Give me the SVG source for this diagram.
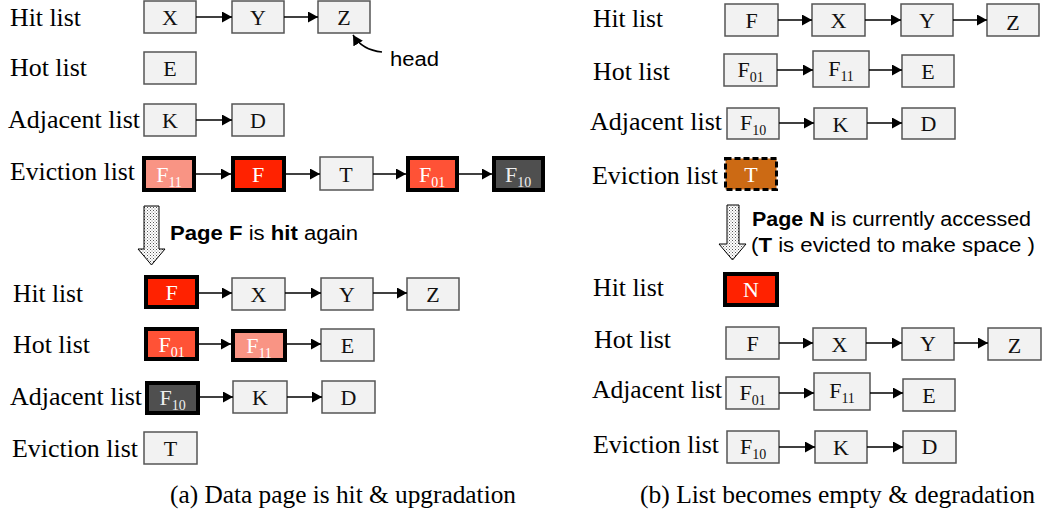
<svg xmlns="http://www.w3.org/2000/svg" width="1044" height="525" viewBox="0 0 1044 525">
<defs>
<style>
.lbl{font-family:"Liberation Serif","Times New Roman",serif;font-size:25px;fill:#000}
.bt{font-family:"Liberation Serif","Times New Roman",serif;font-size:22px;fill:#111;text-anchor:middle}
.wt{fill:#fff}
.sub{font-size:14px}
.box{fill:#f2f2f2;stroke:#555;stroke-width:1.5}
.thick{stroke:#000;stroke-width:4}
.sans{font-family:"Liberation Sans",Arial,sans-serif;font-size:20px;fill:#000}
.b{font-weight:bold}
.con{stroke:#000;stroke-width:1.5;fill:none}
.cap{font-family:"Liberation Serif","Times New Roman",serif;font-size:25px;fill:#000}
</style>
<marker id="ah" markerUnits="userSpaceOnUse" markerWidth="10" markerHeight="11" refX="10" refY="5.5" orient="auto">
<path d="M0,0 L10,5.5 L0,11 z" fill="#000"/>
</marker>
<pattern id="dots" width="3" height="3" patternUnits="userSpaceOnUse">
<rect width="3" height="3" fill="#fff"/>
<rect x="0" y="0" width="1" height="1" fill="#555"/>
<rect x="1.5" y="1.5" width="1" height="1" fill="#888"/>
</pattern>
</defs>
<rect width="1044" height="525" fill="#fff"/>

<!-- ===== Panel (a) top ===== -->
<g id="a-labels-top">
<text class="lbl" x="10" y="26" textLength="71" lengthAdjust="spacingAndGlyphs">Hit list</text>
<text class="lbl" x="10" y="76" textLength="77" lengthAdjust="spacingAndGlyphs">Hot list</text>
<text class="lbl" x="8" y="128" textLength="132" lengthAdjust="spacingAndGlyphs">Adjacent list</text>
<text class="lbl" x="10" y="180" textLength="125" lengthAdjust="spacingAndGlyphs">Eviction list</text>
</g>
<g id="a-X1"><rect class="box" x="144" y="1" width="52" height="32"/><text class="bt" x="170" y="25">X</text></g>
<g id="a-Y1"><rect class="box" x="232" y="1" width="52" height="32"/><text class="bt" x="258" y="25">Y</text></g>
<g id="a-Z1"><rect class="box" x="318" y="1" width="52" height="32"/><text class="bt" x="344" y="25">Z</text></g>
<g id="a-head"><text class="sans" x="390" y="66" textLength="49" lengthAdjust="spacingAndGlyphs">head</text></g>
<g id="a-E1"><rect class="box" x="144" y="52" width="52" height="32"/><text class="bt" x="170" y="76">E</text></g>
<g id="a-K1"><rect class="box" x="144" y="104" width="52" height="32"/><text class="bt" x="170" y="128">K</text></g>
<g id="a-D1"><rect class="box" x="232" y="104" width="52" height="32"/><text class="bt" x="258" y="128">D</text></g>
<g id="a-F11e"><rect class="thick" fill="#f99484" x="144" y="158" width="50" height="32"/><text class="bt wt" x="169" y="182">F<tspan class="sub" dy="5">11</tspan></text></g>
<g id="a-Fe"><rect class="thick" fill="#ff2200" x="233" y="158" width="51" height="32"/><text class="bt wt" x="258" y="182">F</text></g>
<g id="a-Te"><rect class="box" x="320" y="157" width="53" height="33"/><text class="bt" x="346" y="182">T</text></g>
<g id="a-F01e"><rect class="thick" fill="#ff5236" x="408" y="158" width="49" height="32"/><text class="bt wt" x="432" y="182">F<tspan class="sub" dy="5">01</tspan></text></g>
<g id="a-F10e"><rect class="thick" fill="#4f4f4f" x="494" y="158" width="49" height="32"/><text class="bt" style="fill:#eee" x="518" y="182">F<tspan class="sub" dy="5">10</tspan></text></g>

<g id="a-step">
<path d="M144,206 H159 V249 H165 L151.5,265 L138,249 H144 Z" fill="url(#dots)" stroke="#000" stroke-width="1"/>
<text class="sans" x="170" y="240" textLength="188" lengthAdjust="spacingAndGlyphs"><tspan class="b">Page F</tspan> is <tspan class="b">hit</tspan> again</text>
</g>

<!-- ===== Panel (a) bottom ===== -->
<g id="a-labels-bottom">
<text class="lbl" x="13" y="302" textLength="70" lengthAdjust="spacingAndGlyphs">Hit list</text>
<text class="lbl" x="13" y="353" textLength="77" lengthAdjust="spacingAndGlyphs">Hot list</text>
<text class="lbl" x="10" y="405" textLength="132" lengthAdjust="spacingAndGlyphs">Adjacent list</text>
<text class="lbl" x="12" y="457" textLength="126" lengthAdjust="spacingAndGlyphs">Eviction list</text>
</g>
<g id="a-F2"><rect class="thick" fill="#ff2200" x="146" y="277" width="51" height="30"/><text class="bt wt" x="171.5" y="300">F</text></g>
<g id="a-X2"><rect class="box" x="232" y="278" width="53" height="32"/><text class="bt" x="258.5" y="302">X</text></g>
<g id="a-Y2"><rect class="box" x="321" y="278" width="52" height="32"/><text class="bt" x="347" y="302">Y</text></g>
<g id="a-Z2"><rect class="box" x="407" y="278" width="52" height="32"/><text class="bt" x="433" y="302">Z</text></g>
<g id="a-F01h"><rect class="thick" fill="#ff5236" x="146" y="329" width="51" height="30"/><text class="bt wt" x="171.5" y="352">F<tspan class="sub" dy="5">01</tspan></text></g>
<g id="a-F11h"><rect class="thick" fill="#f99484" x="233" y="331" width="52" height="29"/><text class="bt wt" x="259" y="353">F<tspan class="sub" dy="5">11</tspan></text></g>
<g id="a-E2"><rect class="box" x="321" y="329" width="53" height="32"/><text class="bt" x="347.5" y="353">E</text></g>
<g id="a-F10a"><rect class="thick" fill="#4f4f4f" x="147" y="383" width="51" height="30"/><text class="bt" style="fill:#eee" x="172.5" y="405">F<tspan class="sub" dy="5">10</tspan></text></g>
<g id="a-K2"><rect class="box" x="233" y="381" width="54" height="32"/><text class="bt" x="260" y="405">K</text></g>
<g id="a-D2"><rect class="box" x="322" y="381" width="53" height="32"/><text class="bt" x="348.5" y="405">D</text></g>
<g id="a-T2"><rect class="box" x="144" y="432" width="53" height="32"/><text class="bt" x="170.5" y="456">T</text></g>

<text class="cap" x="170" y="503" textLength="346" lengthAdjust="spacingAndGlyphs">(a) Data page is hit &amp; upgradation</text>

<!-- ===== Panel (b) top ===== -->
<g id="b-labels-top">
<text class="lbl" x="593" y="27" textLength="70" lengthAdjust="spacingAndGlyphs">Hit list</text>
<text class="lbl" x="593" y="80" textLength="77" lengthAdjust="spacingAndGlyphs">Hot list</text>
<text class="lbl" x="590" y="130" textLength="132" lengthAdjust="spacingAndGlyphs">Adjacent list</text>
<text class="lbl" x="592" y="184" textLength="126" lengthAdjust="spacingAndGlyphs">Eviction list</text>
</g>
<g id="b-F1"><rect class="box" x="725" y="4" width="53" height="32"/><text class="bt" x="751.5" y="28">F</text></g>
<g id="b-X1"><rect class="box" x="812" y="4" width="53" height="32"/><text class="bt" x="838.5" y="28">X</text></g>
<g id="b-Y1"><rect class="box" x="901" y="4" width="52" height="32"/><text class="bt" x="927" y="28">Y</text></g>
<g id="b-Z1"><rect class="box" x="987" y="4" width="52" height="32"/><text class="bt" x="1013" y="30">Z</text></g>
<g id="b-F01a"><rect class="box" x="724" y="54" width="53" height="32"/><text class="bt" x="750.5" y="77">F<tspan class="sub" dy="5">01</tspan></text></g>
<g id="b-F11a"><rect class="box" x="813" y="51" width="56" height="36"/><text class="bt" x="841" y="76">F<tspan class="sub" dy="5">11</tspan></text></g>
<g id="b-E1"><rect class="box" x="902" y="55" width="52" height="32"/><text class="bt" x="928" y="79">E</text></g>
<g id="b-F10a"><rect class="box" x="727" y="108" width="52" height="31"/><text class="bt" x="753" y="130">F<tspan class="sub" dy="5">10</tspan></text></g>
<g id="b-K1"><rect class="box" x="814" y="108" width="53" height="31"/><text class="bt" x="840.5" y="132">K</text></g>
<g id="b-D1"><rect class="box" x="902" y="108" width="53" height="31"/><text class="bt" x="928.5" y="131">D</text></g>
<g id="b-Te"><rect fill="#cc6a14" stroke="#000" stroke-width="3" stroke-dasharray="6,3" x="725.5" y="158.5" width="51" height="31"/><text class="bt wt" x="751" y="182">T</text></g>

<g id="b-step">
<path d="M727,205 H739 V244 H746 L732.5,260 L719,244 H727 Z" fill="url(#dots)" stroke="#000" stroke-width="1"/>
<text class="sans" x="752" y="226" textLength="279" lengthAdjust="spacingAndGlyphs"><tspan class="b">Page N</tspan> is currently accessed</text>
<text class="sans" x="751" y="252" textLength="284" lengthAdjust="spacingAndGlyphs">(<tspan class="b">T</tspan> is evicted to make space )</text>
</g>

<!-- ===== Panel (b) bottom ===== -->
<g id="b-labels-bottom">
<text class="lbl" x="593" y="296" textLength="71" lengthAdjust="spacingAndGlyphs">Hit list</text>
<text class="lbl" x="594" y="348" textLength="77" lengthAdjust="spacingAndGlyphs">Hot list</text>
<text class="lbl" x="592" y="398" textLength="130" lengthAdjust="spacingAndGlyphs">Adjacent list</text>
<text class="lbl" x="593" y="453" textLength="126" lengthAdjust="spacingAndGlyphs">Eviction list</text>
</g>
<g id="b-N"><rect class="thick" fill="#ff2200" x="725" y="274" width="52" height="31"/><text class="bt wt" x="751" y="297">N</text></g>
<g id="b-F2"><rect class="box" x="726" y="327" width="53" height="32"/><text class="bt" x="752.5" y="351">F</text></g>
<g id="b-X2"><rect class="box" x="813" y="328" width="53" height="32"/><text class="bt" x="839.5" y="352">X</text></g>
<g id="b-Y2"><rect class="box" x="902" y="328" width="52" height="32"/><text class="bt" x="928" y="351">Y</text></g>
<g id="b-Z2"><rect class="box" x="988" y="328" width="53" height="32"/><text class="bt" x="1014.5" y="353">Z</text></g>
<g id="b-F01b"><rect class="box" x="726" y="377" width="53" height="32"/><text class="bt" x="752.5" y="400">F<tspan class="sub" dy="5">01</tspan></text></g>
<g id="b-F11b"><rect class="box" x="814" y="373" width="56" height="37"/><text class="bt" x="842" y="398">F<tspan class="sub" dy="5">11</tspan></text></g>
<g id="b-E2"><rect class="box" x="903" y="379" width="52" height="32"/><text class="bt" x="929" y="403">E</text></g>
<g id="b-F10b"><rect class="box" x="727" y="431" width="52" height="32"/><text class="bt" x="753" y="454">F<tspan class="sub" dy="5">10</tspan></text></g>
<g id="b-K2"><rect class="box" x="815" y="431" width="52" height="32"/><text class="bt" x="841" y="455">K</text></g>
<g id="b-D2"><rect class="box" x="903" y="431" width="53" height="32"/><text class="bt" x="929.5" y="454">D</text></g>

<text class="cap" x="640" y="503" textLength="395" lengthAdjust="spacingAndGlyphs">(b) List becomes empty &amp; degradation</text>

<!-- ===== Connectors ===== -->
<g id="connectors">
<line class="con" x1="196" y1="17" x2="232" y2="17" marker-end="url(#ah)"/>
<line class="con" x1="284" y1="17" x2="318" y2="17" marker-end="url(#ah)"/>
<path class="con" d="M382,52 Q362,50 353,35" marker-end="url(#ah)"/>
<line class="con" x1="196" y1="120" x2="232" y2="120" marker-end="url(#ah)"/>
<line class="con" x1="196" y1="174" x2="231" y2="174" marker-end="url(#ah)"/>
<line class="con" x1="286" y1="174" x2="320" y2="174" marker-end="url(#ah)"/>
<line class="con" x1="373" y1="174" x2="406" y2="174" marker-end="url(#ah)"/>
<line class="con" x1="459" y1="174" x2="492" y2="174" marker-end="url(#ah)"/>

<line class="con" x1="199" y1="293" x2="232" y2="293" marker-end="url(#ah)"/>
<line class="con" x1="285" y1="293" x2="321" y2="293" marker-end="url(#ah)"/>
<line class="con" x1="373" y1="293" x2="407" y2="293" marker-end="url(#ah)"/>
<line class="con" x1="199" y1="344" x2="231" y2="344" marker-end="url(#ah)"/>
<line class="con" x1="287" y1="344" x2="321" y2="344" marker-end="url(#ah)"/>
<line class="con" x1="200" y1="397" x2="233" y2="397" marker-end="url(#ah)"/>
<line class="con" x1="287" y1="397" x2="322" y2="397" marker-end="url(#ah)"/>

<line class="con" x1="778" y1="20" x2="812" y2="20" marker-end="url(#ah)"/>
<line class="con" x1="865" y1="20" x2="901" y2="20" marker-end="url(#ah)"/>
<line class="con" x1="953" y1="20" x2="987" y2="20" marker-end="url(#ah)"/>
<line class="con" x1="777" y1="70" x2="813" y2="70" marker-end="url(#ah)"/>
<line class="con" x1="869" y1="70" x2="902" y2="70" marker-end="url(#ah)"/>
<line class="con" x1="779" y1="123" x2="814" y2="123" marker-end="url(#ah)"/>
<line class="con" x1="867" y1="123" x2="902" y2="123" marker-end="url(#ah)"/>

<line class="con" x1="779" y1="343" x2="813" y2="343" marker-end="url(#ah)"/>
<line class="con" x1="866" y1="343" x2="902" y2="343" marker-end="url(#ah)"/>
<line class="con" x1="954" y1="343" x2="988" y2="343" marker-end="url(#ah)"/>
<line class="con" x1="779" y1="393" x2="814" y2="393" marker-end="url(#ah)"/>
<line class="con" x1="870" y1="393" x2="903" y2="393" marker-end="url(#ah)"/>
<line class="con" x1="779" y1="447" x2="815" y2="447" marker-end="url(#ah)"/>
<line class="con" x1="867" y1="447" x2="903" y2="447" marker-end="url(#ah)"/>
</g>
</svg>
